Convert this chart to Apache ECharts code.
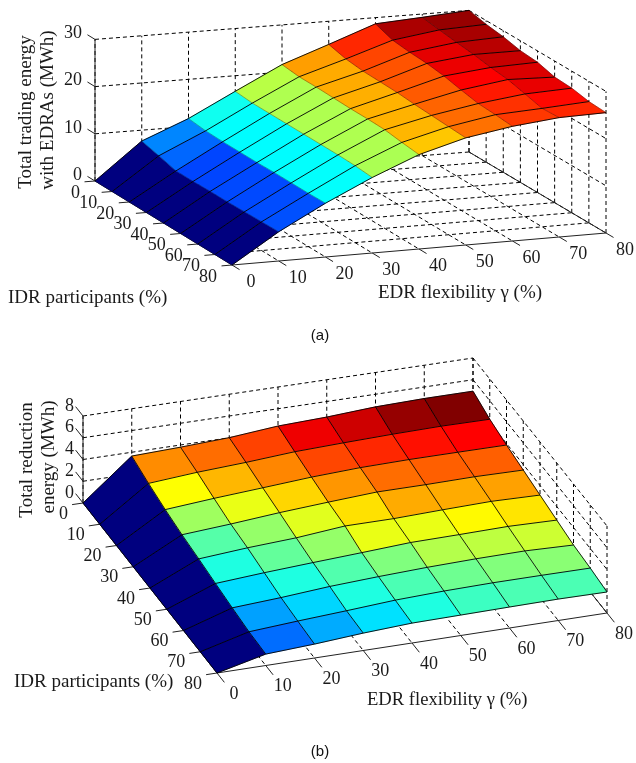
<!DOCTYPE html>
<html>
<head>
<meta charset="utf-8">
<style>html,body{margin:0;padding:0;background:#fff}#c{width:636px;height:763px}</style>
<script src="https://cdn.jsdelivr.net/npm/echarts@6/dist/echarts.min.js"></script>
</head>
<body>
<div id="c"></div>
<script>
// ---- data (rows: IDR participants, columns: EDR flexibility) ----
const idrTicks = [0, 10, 20, 30, 40, 50, 60, 70, 80];
const edrTicks = [0, 10, 20, 30, 40, 50, 60, 70, 80];
const tradingTicks = [0, 10, 20, 30];
const reductionTicks = [0, 2, 4, 6, 8];
const tradingEnergy = [
  [0, 7.7, 11.7, 16.7, 21.6, 25.1, 28.7, 29.3, 30.0],
  [0, 6.8, 11.3, 16.4, 21.2, 24.2, 27.4, 28.8, 29.2],
  [0, 5.8, 11.2, 16.4, 21.2, 23.8, 27.0, 28.3, 28.7],
  [0, 5.8, 11.2, 16.4, 21.1, 23.7, 26.8, 27.9, 27.9],
  [0, 5.9, 11.2, 16.4, 21.0, 23.6, 26.3, 27.3, 27.6],
  [0, 5.9, 11.3, 16.4, 21.0, 23.3, 25.5, 26.9, 26.6],
  [0, 6.0, 11.3, 16.4, 20.9, 23.1, 24.8, 26.0, 26.4],
  [0, 6.1, 11.3, 16.3, 20.4, 22.9, 24.6, 25.1, 25.7],
  [0, 6.2, 11.4, 16.0, 20.0, 22.7, 24.3, 25.3, 25.5]
];
const reductionEnergy = [
  [0, 3.65, 3.80, 4.01, 4.41, 4.57, 4.84, 4.94, 4.95],
  [0, 3.09, 3.44, 3.68, 3.99, 4.14, 4.26, 4.33, 4.30],
  [0, 2.63, 2.99, 3.29, 3.60, 3.80, 3.87, 3.87, 3.86],
  [0, 2.27, 2.58, 2.95, 3.24, 3.50, 3.50, 3.55, 3.49],
  [0, 2.00, 2.34, 2.58, 2.99, 2.99, 3.12, 3.22, 3.12],
  [0, 1.69, 2.00, 2.25, 2.48, 2.73, 2.78, 2.85, 2.75],
  [0, 1.40, 1.66, 2.00, 2.22, 2.39, 2.49, 2.53, 2.39],
  [0, 1.15, 1.45, 1.71, 2.00, 2.15, 2.22, 2.22, 2.20],
  [0, 1.05, 1.28, 1.60, 1.83, 1.88, 1.93, 1.97, 1.93]
];
const jet = ['#00007f', '#0000ff', '#007fff', '#00ffff', '#7fff7f', '#ffff00', '#ff7f00', '#ff0000', '#7f0000'];

// ---- oblique views of the two boxes ----
const panels = [
  { A: [95, 181], B: [232, 265], C: [606, 233], D: [469, 152], zScale: 4.72, colorMax: 30,
    values: tradingEnergy, zTicks: tradingTicks, iLineAlpha: 0.35,
    zOff: [-13, -6], iOff: [-15, 12], eOff: [19, 17] },
  { A: [83, 503], B: [217, 673], C: [607, 613], D: [473, 445], zScale: 10.875, colorMax: 4.95,
    values: reductionEnergy, zTicks: reductionTicks, iLineAlpha: 0.95,
    zOff: [-9, -10], iOff: [-15, 11], eOff: [17, 21] }
];
const idrMax = idrTicks[idrTicks.length - 1], edrMax = edrTicks[edrTicks.length - 1];
function project(p, i, e, z) {
  const u = i / idrMax, v = e / edrMax;
  const mix = k => (1 - u) * (1 - v) * p.A[k] + u * (1 - v) * p.B[k] + u * v * p.C[k] + (1 - u) * v * p.D[k];
  return [mix(0), mix(1) - z * p.zScale];
}

// ---- build marks ----
const cells = [], segments = [], labels = [];
const SERIF = '"Liberation Serif","Times New Roman",serif';
panels.forEach((p, pi) => {
  const zTop = p.zTicks[p.zTicks.length - 1];
  const seg = (a, b, kind, alpha) => segments.push({ value: [pi, ...a, ...b], kind, alpha });
  // back walls and floor
  p.zTicks.forEach(z => {
    seg([0, 0, z], [0, edrMax, z], 'dash');
    seg([0, edrMax, z], [idrMax, edrMax, z], 'dash');
  });
  edrTicks.forEach(e => {
    seg([0, e, 0], [0, e, zTop], 'dash');
    if (e > 0 && e < edrMax) seg([0, e, 0], [idrMax, e, 0], 'dash');
  });
  idrTicks.forEach(i => {
    seg([i, edrMax, 0], [i, edrMax, zTop], 'dash');
    if (i > 0 && i < idrMax) seg([i, 0, 0], [i, edrMax, 0], 'dash');
  });
  // axis lines
  seg([0, 0, 0], [0, 0, zTop], 'axis');
  seg([0, 0, 0], [idrMax, 0, 0], 'axis');
  seg([idrMax, 0, 0], [idrMax, edrMax, 0], 'axis');
  seg([0, edrMax, 0], [idrMax, edrMax, 0], 'axis');
  // tick marks
  p.zTicks.forEach(z => seg([0, 0, z], [-0.055 * idrMax, 0, z], 'axis'));
  idrTicks.forEach(i => seg([i, 0, 0], [i, -0.028 * edrMax, 0], 'axis'));
  edrTicks.forEach(e => seg([idrMax, e, 0], [idrMax * 1.055, e, 0], 'axis'));
  // surface cells (flat shading from each cell's first corner)
  for (let r = 0; r < idrTicks.length - 1; r++) {
    for (let c = 0; c < edrTicks.length - 1; c++) {
      cells.push({ value: [pi, r, c] });
    }
  }
  // tick labels
  const lab = (pos, off, text, align) => labels.push({ value: [pos[0] + off[0], pos[1] + off[1]], text, align });
  p.zTicks.forEach(z => lab(project(p, 0, 0, z), p.zOff, String(z), 'right'));
  idrTicks.forEach(i => lab(project(p, i, 0, 0), p.iOff, String(i), 'right'));
  edrTicks.forEach(e => lab(project(p, idrMax, e, 0), p.eOff, String(e), 'center'));
});
// mesh lines drawn over the cells
const mesh = [];
panels.forEach((p, pi) => {
  const v = p.values;
  idrTicks.forEach((i, r) => edrTicks.forEach((e, c) => {
    if (c < edrTicks.length - 1) mesh.push({ value: [pi, i, e, v[r][c], i, edrTicks[c + 1], v[r][c + 1]], alpha: 1, width: 0.9 });
    if (r < idrTicks.length - 1) mesh.push({ value: [pi, i, e, v[r][c], idrTicks[r + 1], e, v[r + 1][c]], alpha: p.iLineAlpha, width: 0.9 });
  }));
});

const chart = echarts.init(document.getElementById('c'), null, { renderer: 'canvas' });
function segmentItem(params, api, item) {
  const d = item.value, p = panels[d[0]];
  const a = api.coord(project(p, d[1], d[2], d[3])), b = api.coord(project(p, d[4], d[5], d[6]));
  const dash = item.kind === 'dash';
  return {
    type: 'line',
    shape: { x1: a[0], y1: a[1], x2: b[0], y2: b[1] },
    style: {
      stroke: dash ? '#000' : (item.kind === 'axis' ? '#222' : '#000'), lineWidth: item.width || 1,
      lineDash: dash ? [4, 3] : null, opacity: item.alpha == null ? 1 : item.alpha
    },
    silent: true
  };
}
chart.setOption({
  animation: false,
  backgroundColor: '#fff',
  grid: { left: 0, right: 0, top: 0, bottom: 0 },
  xAxis: { type: 'value', min: 0, max: 636, show: false },
  yAxis: { type: 'value', min: 0, max: 763, inverse: true, show: false },
  series: [
    { type: 'custom', name: 'box', coordinateSystem: 'cartesian2d', clip: false, data: segments,
      renderItem: (params, api) => segmentItem(params, api, segments[params.dataIndex]) },
    { type: 'custom', name: 'surface', coordinateSystem: 'cartesian2d', clip: false, data: cells,
      renderItem: (params, api) => {
        const [pi, r, c] = cells[params.dataIndex].value, p = panels[pi], v = p.values;
        const corner = (rr, cc) => api.coord(project(p, idrTicks[rr], edrTicks[cc], v[rr][cc]));
        const t = Math.min(1, v[r][c] / p.colorMax);
        const color = echarts.color.lerp(t, jet);
        return {
          type: 'polygon',
          shape: { points: [corner(r, c), corner(r, c + 1), corner(r + 1, c + 1), corner(r + 1, c)] },
          style: { fill: color, stroke: color, lineWidth: 0.6 },
          silent: true
        };
      } },
    { type: 'custom', name: 'mesh', coordinateSystem: 'cartesian2d', clip: false, data: mesh,
      renderItem: (params, api) => {
        const m = mesh[params.dataIndex];
        return segmentItem(params, api, { value: m.value, kind: 'solid', alpha: m.alpha, width: m.width });
      } },
    { type: 'custom', name: 'ticks', coordinateSystem: 'cartesian2d', clip: false, data: labels,
      renderItem: (params, api) => {
        const l = labels[params.dataIndex], q = api.coord(l.value);
        return {
          type: 'text',
          style: { text: l.text, x: q[0], y: q[1], align: l.align, verticalAlign: 'middle',
            font: '18px ' + SERIF, fill: '#1a1a1a' },
          silent: true
        };
      } }
  ],
  graphic: [
    { type: 'text', x: 26, y: 112, rotation: Math.PI / 2, style: { text: 'Total trading energy', align: 'center', verticalAlign: 'middle', font: '19px ' + SERIF, fill: '#1a1a1a' } },
    { type: 'text', x: 48, y: 110, rotation: Math.PI / 2, style: { text: 'with EDRAs (MWh)', align: 'center', verticalAlign: 'middle', font: '19px ' + SERIF, fill: '#1a1a1a' } },
    { type: 'text', x: 8, y: 298, style: { text: 'IDR participants (%)', align: 'left', verticalAlign: 'middle', font: '19px ' + SERIF, fill: '#1a1a1a' } },
    { type: 'text', x: 378, y: 293, style: { text: 'EDR flexibility γ (%)', align: 'left', verticalAlign: 'middle', font: '19px ' + SERIF, fill: '#1a1a1a' } },
    { type: 'text', x: 320, y: 336, style: { text: '(a)', align: 'center', verticalAlign: 'middle', font: '15px "Liberation Sans",Arial,sans-serif', fill: '#111' } },
    { type: 'text', x: 27, y: 460, rotation: Math.PI / 2, style: { text: 'Total reduction', align: 'center', verticalAlign: 'middle', font: '19px ' + SERIF, fill: '#1a1a1a' } },
    { type: 'text', x: 49, y: 457, rotation: Math.PI / 2, style: { text: 'energy (MWh)', align: 'center', verticalAlign: 'middle', font: '19px ' + SERIF, fill: '#1a1a1a' } },
    { type: 'text', x: 14, y: 682, style: { text: 'IDR participants (%)', align: 'left', verticalAlign: 'middle', font: '19px ' + SERIF, fill: '#1a1a1a' } },
    { type: 'text', x: 367, y: 700, style: { text: 'EDR flexibility γ (%)', align: 'left', verticalAlign: 'middle', font: '18.6px ' + SERIF, fill: '#1a1a1a' } },
    { type: 'text', x: 320, y: 752, style: { text: '(b)', align: 'center', verticalAlign: 'middle', font: '15px "Liberation Sans",Arial,sans-serif', fill: '#111' } }
  ]
});
</script>
</body>
</html>
